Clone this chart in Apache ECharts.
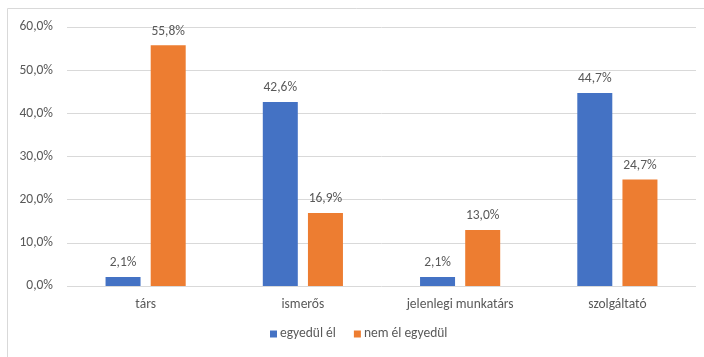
<!DOCTYPE html>
<html><head><meta charset="utf-8">
<script src="https://cdn.jsdelivr.net/npm/echarts@6/dist/echarts.min.js"></script>
<style>html,body{margin:0;padding:0;background:#fff}#c{width:704px;height:357px}</style>
</head><body><div id="c"></div>
<script>
const categories = ['társ', 'ismerős', 'jelenlegi munkatárs', 'szolgáltató'];
const seriesNames = ['egyedül él', 'nem él egyedül'];
const egyedulEl = [2.1, 42.6, 2.1, 44.7];
const nemElEgyedul = [55.8, 16.9, 13.0, 24.7];
const yTicks = [0, 10, 20, 30, 40, 50, 60];

const font = 'Calibri, Carlito, Lato, "Open Sans", "Liberation Sans", sans-serif';
const fs = 13.5;
const fmt = v => v.toFixed(1).replace('.', ',') + '%';
const chart = echarts.init(document.getElementById('c'), null, {renderer: 'canvas'});
const labelOpt = {show: true, position: 'top', distance: 7, color: '#595959', fontSize: fs, fontFamily: font,
  formatter: p => fmt(p.value)};
chart.setOption({
  animation: false,
  textStyle: {fontFamily: font},
  graphic: [{type: 'rect', shape: {x: 7.5, y: 8.5, width: 720, height: 400}, style: {fill: 'none', stroke: '#d9d9d9', lineWidth: 1}, silent: true}],
  grid: {left: 67, right: 8, top: 27, bottom: 71},
  legend: {bottom: 11, left: 265, itemWidth: 7, itemHeight: 7, itemGap: 18, icon: 'rect',
    textStyle: {color: '#595959', fontSize: fs, fontFamily: font, padding: [0, 0, 0, -2]},
    data: seriesNames},
  xAxis: {type: 'category', data: categories,
    axisLine: {show: false}, axisTick: {show: false},
    axisLabel: {color: '#595959', fontSize: fs, fontFamily: font, margin: 12}},
  yAxis: {type: 'value', min: yTicks[0], max: yTicks[yTicks.length - 1], interval: 10,
    axisLine: {show: false}, axisTick: {show: false},
    splitLine: {lineStyle: {color: '#d9d9d9', width: 1}},
    axisLabel: {color: '#595959', fontSize: fs, fontFamily: font, margin: 14, formatter: v => fmt(v)}},
  series: [
    {name: seriesNames[0], type: 'bar', data: egyedulEl, barWidth: 35, barGap: '29%', itemStyle: {color: '#4472c4'}, label: labelOpt},
    {name: seriesNames[1], type: 'bar', data: nemElEgyedul, barWidth: 35, barGap: '29%', itemStyle: {color: '#ed7d31'}, label: labelOpt}
  ]
});
</script></body></html>
